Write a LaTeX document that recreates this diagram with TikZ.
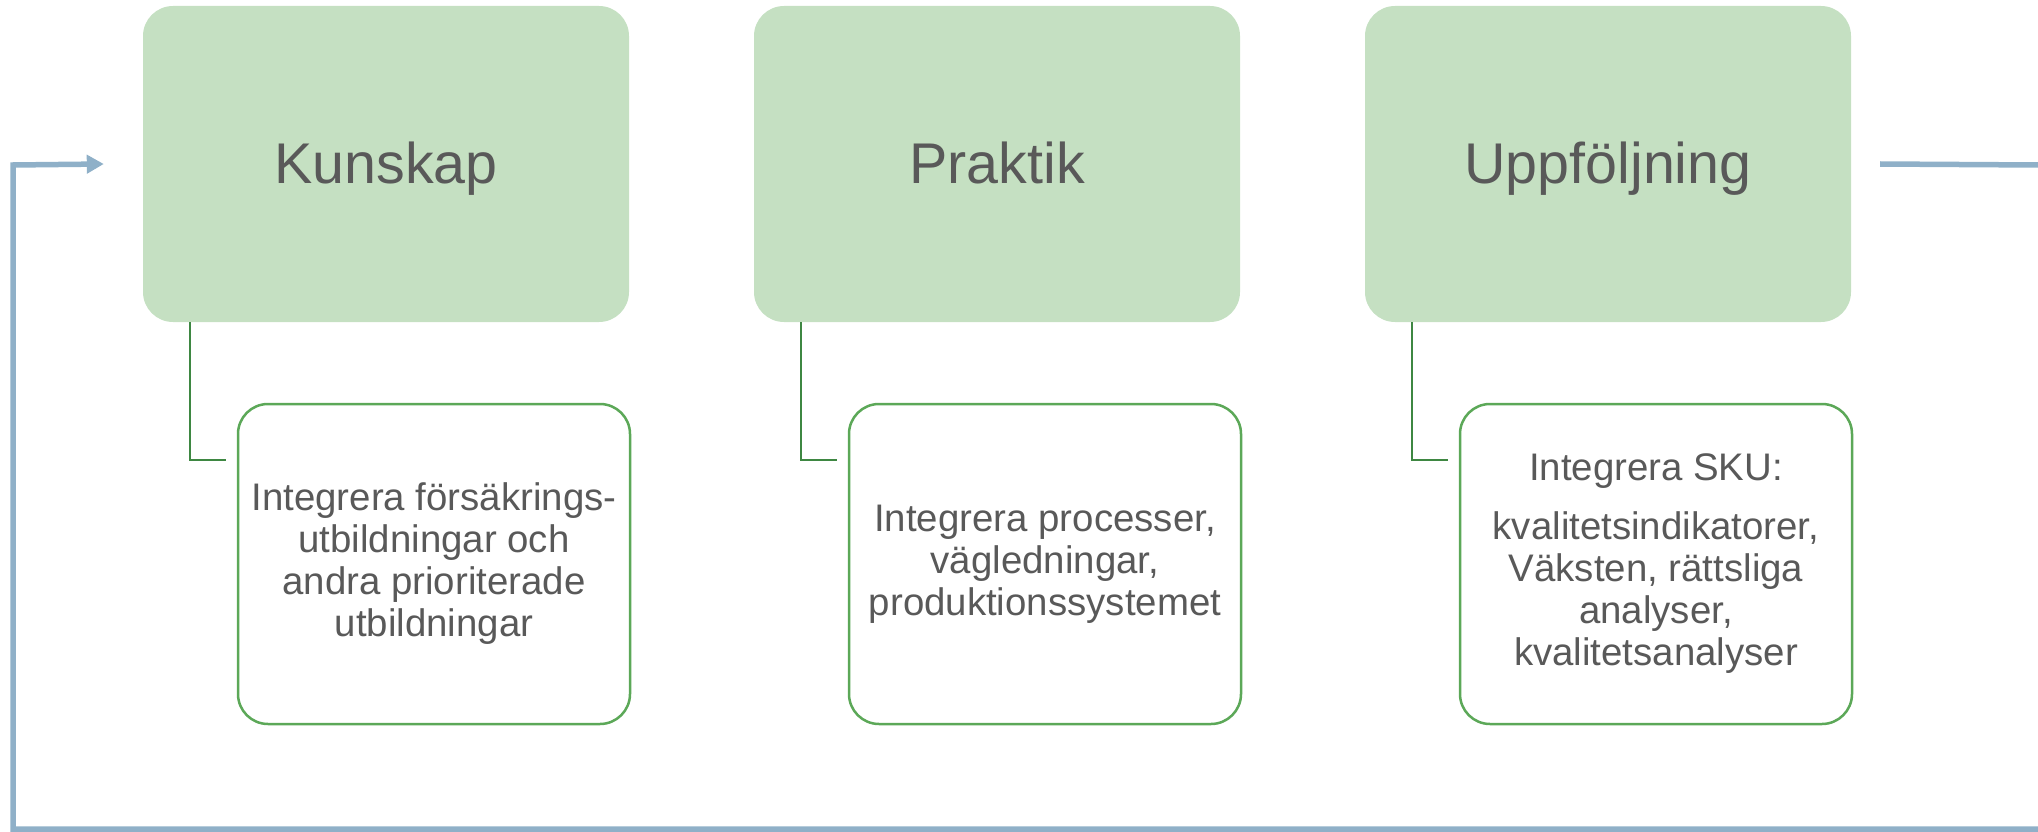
\documentclass[tikz,border=0pt]{standalone}
\usepackage{fontspec}
\setmainfont{Liberation Sans}
\usetikzlibrary{arrows.meta,calc}
\definecolor{boxgreen}{RGB}{197,224,194}
\definecolor{edgegreen}{RGB}{92,168,88}
\definecolor{conngreen}{RGB}{62,135,66}
\definecolor{loopblue}{RGB}{143,176,200}
\definecolor{txt}{RGB}{89,89,89}
\begin{document}
\begin{tikzpicture}[x=1pt,y=-1pt,
  mainbox/.style={fill=boxgreen,rounded corners=30pt,minimum width=486pt,minimum height=316pt,inner sep=0pt,text=txt,text height=39pt,text depth=0pt,font=\fontsize{57.4}{62}\selectfont},
  subbox/.style={draw=edgegreen,line width=2.5pt,fill=white,rounded corners=30pt,minimum width=392pt,minimum height=320pt,inner sep=0pt,text=txt,align=center,font=\fontsize{38.4}{42}\selectfont},
  conn/.style={draw=conngreen,line width=2pt},
  loopline/.style={draw=loopblue,line width=5.5pt,line join=miter}]
\useasboundingbox (0,0) rectangle (2038,832);

\node[mainbox] (k) at (386,164) {Kunskap};
\node[mainbox] (p) at (997,164) {Praktik};
\node[mainbox] (u) at (1608,164) {Uppföljning};

\node[subbox] (ks) at (434,564) {Integrera försäkrings-\\utbildningar och\\andra prioriterade\\utbildningar};
\node[subbox] (ps) at (1045,564) {Integrera processer,\\vägledningar,\\produktionssystemet};
\node[subbox] (us) at (1656,564) {Integrera SKU:\\[17pt]kvalitetsindikatorer,\\Väksten, rättsliga\\analyser,\\kvalitetsanalyser};

\draw[conn] ([xshift=47pt]k.south west) |- ([xshift=-11pt,yshift=-57pt]ks.north west);
\draw[conn] ([xshift=47pt]p.south west) |- ([xshift=-11pt,yshift=-57pt]ps.north west);
\draw[conn] ([xshift=47pt]u.south west) |- ([xshift=-11pt,yshift=-57pt]us.north west);

\coordinate (re) at (2038,165);
\coordinate (se) at (2038,829);
\draw[loopline] ([xshift=29pt]u.east) -- (re);
\draw[loopline,-{Triangle[length=17pt,width=18pt]}] (se) -| (13,165) -- ([xshift=-39pt]k.west);
\end{tikzpicture}
\end{document}
